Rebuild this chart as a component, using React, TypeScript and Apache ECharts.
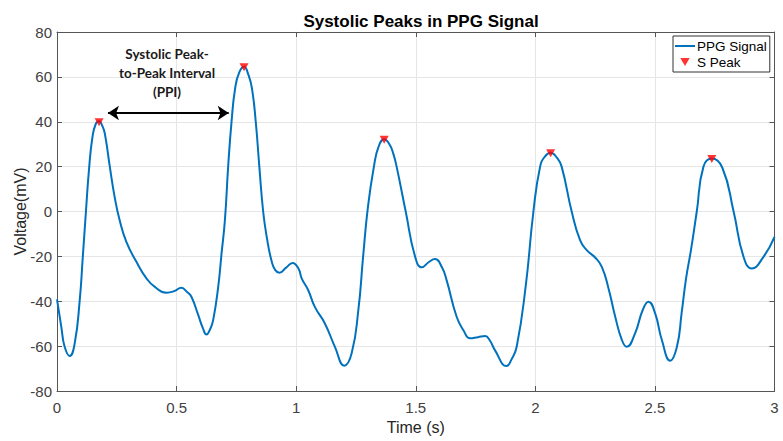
import React, { useEffect, useRef } from "react";
import * as echarts from "echarts";

const timeS: number[] = [
  0, 0.018, 0.032, 0.053, 0.074, 0.095, 0.108, 0.121, 0.134, 0.148, 0.162, 0.176, 0.19, 0.2, 0.22, 0.241, 0.262,
  0.29, 0.332, 0.374, 0.409, 0.458, 0.49, 0.52, 0.545, 0.562, 0.59, 0.61, 0.625, 0.64, 0.653, 0.674, 0.688, 0.702,
  0.716, 0.73, 0.745, 0.762, 0.782, 0.8, 0.815, 0.831, 0.846, 0.862, 0.878, 0.897, 0.912, 0.93, 0.958, 0.985, 1.01,
  1.023, 1.05, 1.078, 1.12, 1.162, 1.201, 1.232, 1.26, 1.28, 1.3, 1.325, 1.345, 1.368, 1.39, 1.406, 1.42, 1.458,
  1.497, 1.525, 1.555, 1.58, 1.61, 1.629, 1.671, 1.7, 1.727, 1.76, 1.79, 1.81, 1.831, 1.88, 1.9, 1.922, 1.96, 1.992,
  2.02, 2.04, 2.064, 2.09, 2.11, 2.152, 2.187, 2.215, 2.25, 2.278, 2.306, 2.334, 2.362, 2.382, 2.417, 2.449, 2.473,
  2.501, 2.529, 2.564, 2.592, 2.612, 2.63, 2.651, 2.675, 2.703, 2.738, 2.782, 2.829, 2.87, 2.905, 2.954, 3.0,
];
const voltage: number[] = [
  -39.2, -51.4, -60.3, -64.4, -58.8, -39.5, -20, 0, 19, 33, 39, 40.2, 38, 34.7, 20.6, 6.5, -3.9,
  -13.5, -22.4, -29.8, -33.6, -36.2, -35.5, -34, -36, -38, -46, -52, -54.8, -52.5, -48.4, -33.6, -18.7, -3.9,
  20.6, 40.3, 55, 62, 64.5, 61, 55, 40, 20, 0, -12, -22, -26, -27.3, -25, -22.9, -25.5,
  -29.8, -35, -42.5, -49.9, -60.3, -68.7, -63.2, -43.9, -20, 2, 20, 29, 32.2, 30, 25.8, 20, 0,
  -20, -24.9, -22.5, -21.2, -25, -30.6, -46.9, -53, -56.5, -56, -55.5, -57.5, -61.8, -68.9, -66, -60.3, -33, 0,
  20, 24.5, 26.2, 24, 20, 0, -12.8, -17.2, -20.5, -24.7, -34.3, -46.9, -57.3, -60.3, -54.3, -43.9, -40.2,
  -45.4, -57.3, -66.5, -60.3, -45, -30, -17, 0, 20, 23.6, 19.5, 0, -20, -25.4, -20.2, -11.3,
];
const peakTimes: number[] = [0.176, 0.782, 1.368, 2.064, 2.738];
const peakValues: number[] = [39.8, 64.3, 32, 26, 23.4];
const xTicks = { min: 0, max: 3, interval: 0.5 };
const yTicks = { min: -80, max: 80, interval: 20 };
const ppiArrow = { start: 0.213, end: 0.718, level: 43.9 };
const ppiLabel = "Systolic Peak-\nto-Peak Interval\n(PPI)";

const AX = "#555555";
const FONT = "'Liberation Sans', Arial, sans-serif";

export default function App() {
  const ref = useRef<HTMLDivElement>(null);
  useEffect(() => {
    if (!ref.current) return;
    const chart = echarts.init(ref.current, undefined, { renderer: "svg" });
    const lineData = timeS.map((t, i) => [t, voltage[i]]);
    const peakData = peakTimes.map((t, i) => [t, peakValues[i]]);
    const xCommon = {
      type: "value" as const,
      min: xTicks.min,
      max: xTicks.max,
      interval: xTicks.interval,
      axisLine: { show: true, onZero: false, lineStyle: { color: AX, width: 1 } },
      axisTick: { show: true, inside: true, length: 5, lineStyle: { color: AX } },
    };
    const yCommon = {
      type: "value" as const,
      min: yTicks.min,
      max: yTicks.max,
      interval: yTicks.interval,
      axisLine: { show: true, onZero: false, lineStyle: { color: AX, width: 1 } },
      axisTick: { show: true, inside: true, length: 5, lineStyle: { color: AX } },
    };
    chart.setOption({
      animation: false,
      backgroundColor: "#ffffff",
      title: {
        text: "Systolic Peaks in PPG Signal",
        left: 416,
        top: 8,
        textAlign: "center",
        textStyle: { fontFamily: FONT, fontWeight: "bold", fontSize: 17, color: "#000" },
      },
      grid: { left: 57, right: 8.5, top: 32, bottom: 50, containLabel: false, outerBoundsMode: "none" },
      legend: {
        orient: "vertical",
        left: 673,
        top: 36,
        padding: [3, 3, 3, 2],
        itemGap: 2,
        itemWidth: 20,
        itemHeight: 8,
        borderColor: "#333",
        borderWidth: 1,
        borderRadius: 0,
        backgroundColor: "#fff",
        textStyle: { fontFamily: FONT, fontSize: 13.5, color: "#000", padding: [0, 0, 0, -3] },
        data: [
          { name: "PPG Signal", icon: "path://M0,0 L20,0 L20,2 L0,2 Z", itemStyle: { color: "#0072BD" } },
          { name: "S Peak", icon: "path://M0,0 L10,0 L5,8.5 Z", itemStyle: { color: "#ff0000" } },
        ],
      },
      xAxis: [
        {
          ...xCommon,
          position: "bottom",
          name: "Time (s)",
          nameLocation: "middle",
          nameGap: 28,
          nameMoveOverlap: false,
          nameTextStyle: { fontFamily: FONT, fontSize: 16, color: "#262626" },
          axisLabel: { fontFamily: FONT, fontSize: 15, color: "#404040", margin: 9 },
          splitLine: { show: true, lineStyle: { color: "#e6e6e6", width: 1 } },
        },
        { ...xCommon, position: "top", axisLabel: { show: false }, splitLine: { show: false } },
      ],
      yAxis: [
        {
          ...yCommon,
          position: "left",
          name: "Voltage(mV)",
          nameLocation: "middle",
          nameGap: 29,
          nameMoveOverlap: false,
          nameTextStyle: { fontFamily: FONT, fontSize: 16, color: "#262626" },
          axisLabel: { fontFamily: FONT, fontSize: 15, color: "#404040", margin: 5 },
          splitLine: { show: true, lineStyle: { color: "#e6e6e6", width: 1 } },
        },
        { ...yCommon, position: "right", axisLabel: { show: false }, splitLine: { show: false } },
      ],
      series: [
        {
          name: "PPG Signal",
          type: "line",
          data: lineData,
          smooth: 0.5,
          symbol: "none",
          lineStyle: { color: "#0072BD", width: 2 },
          itemStyle: { color: "#0072BD" },
          z: 2,
          markLine: {
            silent: true,
            symbol: ["arrow", "arrow"],
            symbolSize: 11,
            label: { show: false },
            lineStyle: { color: "#000", width: 2, type: "solid" },
            data: [[{ coord: [ppiArrow.start, ppiArrow.level] }, { coord: [ppiArrow.end, ppiArrow.level] }]],
          },
        },
        {
          name: "S Peak",
          type: "scatter",
          data: peakData,
          symbol: "triangle",
          symbolRotate: 180,
          symbolSize: [9, 8],
          itemStyle: { color: "#ff0000" },
          z: 3,
        },
      ],
      graphic: [
        {
          type: "text",
          x: 167,
          y: 72.5,
          z: 10,
          style: {
            text: ppiLabel,
            font: "bold 13.5px Lato, 'Open Sans', sans-serif",
            textAlign: "center",
            textVerticalAlign: "middle",
            lineHeight: 19,
            fill: "#1a1a1a",
          },
        },
      ],
    });
    return () => chart.dispose();
  }, []);
  return (
    <div
      ref={ref}
      style={{ position: "fixed", left: 0, top: 0, width: 783, height: 441, background: "#fff" }}
    />
  );
}
